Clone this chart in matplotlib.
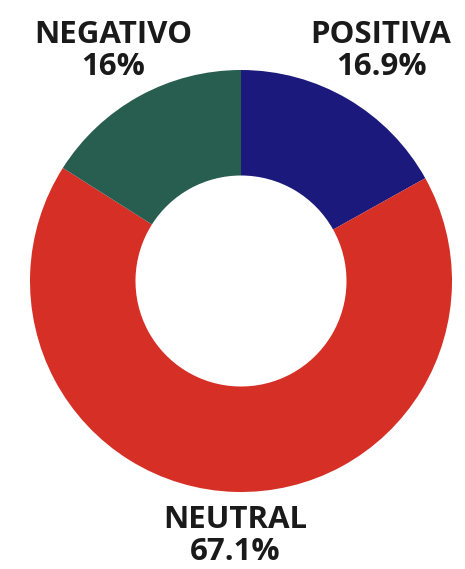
import matplotlib.pyplot as plt

labels = ["POSITIVA", "NEUTRAL", "NEGATIVO"]
shares = [16.9, 67.1, 16.0]
share_text = ["16.9%", "67.1%", "16%"]
colors = ["#1b1a7c", "#d62f26", "#285e4f"]

plt.rcParams["font.family"] = ["Open Sans", "DejaVu Sans"]

fig = plt.figure(figsize=(4.65, 5.69), dpi=100)
ax = fig.add_axes([0, 0, 1, 1])

ax.pie(shares, colors=colors, startangle=90, counterclock=False,
       center=(241, 288), radius=211, frame=True,
       wedgeprops=dict(width=105.5, linewidth=0))
ax.set_xlim(0, 465)
ax.set_ylim(0, 569)
ax.set_aspect("equal")
ax.axis("off")

# label placement for each slice
label_pos = {"POSITIVA": (381, 518), "NEUTRAL": (235, 33), "NEGATIVO": (113, 518)}
for name, txt in zip(labels, share_text):
    x, y = label_pos[name]
    ax.text(x, y, f"{name}\n{txt}", ha="center", va="center", fontsize=22.5,
            fontweight="bold", color="#1a1a1a", linespacing=1.05)

fig.savefig("out.png", dpi=100)
